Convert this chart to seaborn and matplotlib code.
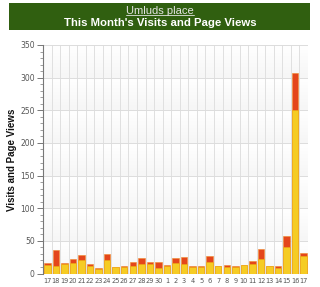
import numpy as np
import pandas as pd
import matplotlib
matplotlib.use("Agg")
import matplotlib.pyplot as plt
from matplotlib.lines import Line2D
from matplotlib.patches import Rectangle
from matplotlib.ticker import MultipleLocator, FixedLocator
import seaborn as sns

days = [17, 18, 19, 20, 21, 22, 23, 24, 25, 26, 27, 28, 29, 30,
        1, 2, 3, 4, 5, 6, 7, 8, 9, 10, 11, 12, 13, 14, 15, 16, 17]
visits = [13, 12, 14, 16, 21, 12, 7, 20, 10, 10, 12, 14, 14, 9,
          11, 16, 15, 10, 10, 18, 11, 10, 10, 13, 15, 22, 11, 9, 40, 250, 27]
pageviews = [16, 36, 16, 22, 29, 15, 9, 30, 10, 11, 18, 23, 17, 18,
             13, 23, 26, 12, 12, 27, 11, 13, 11, 13, 19, 38, 12, 12, 57, 307, 32]
site_name = "Umluds place"
chart_title = "This Month's Visits and Page Views"
y_label = "Visits and Page Views"

df = pd.DataFrame({"pos": np.arange(len(days)), "day": days,
                   "visits": visits, "pageviews": pageviews})

sns.set_style("white")
W, H = 320, 287
fig = plt.figure(figsize=(W / 100, H / 100), dpi=100)
fig.patch.set_facecolor("white")

# banner
fig.patches.append(Rectangle((9 / W, 1 - 30 / H), 301 / W, 27 / H,
                             transform=fig.transFigure, facecolor="#305f10",
                             edgecolor="none", zorder=0))
t1 = fig.text(0.5, 1 - 10.5 / H, site_name, ha="center", va="center",
              fontsize=8, color="#e4e4e4", family="Liberation Sans")
t2 = fig.text(0.5, 1 - 23 / H, chart_title, ha="center", va="center",
              fontsize=8.2, color="white", fontweight="bold", family="Liberation Sans")

ax = fig.add_axes([43 / W, 1 - 273.5 / H, 265 / W, (273.5 - 45) / H])
ax.set_facecolor("white")

# subtle gradient bands
ymax = 350
for lo in range(0, ymax, 50):
    grad = np.linspace(1, 0, 20).reshape(-1, 1)
    ax.imshow(grad, extent=(-0.5, len(days) - 0.5, lo, lo + 50), aspect="auto",
              cmap=matplotlib.colors.LinearSegmentedColormap.from_list(
                  "g", ["#ffffff", "#f6f6f6"]), vmin=0, vmax=1, zorder=0,
              origin="lower")

sns.barplot(data=df, x="pos", y="pageviews", ax=ax, color="#e4461b",
            saturation=1, width=0.76, edgecolor="#f08a2a", linewidth=0.4, zorder=3)
sns.barplot(data=df, x="pos", y="visits", ax=ax, color="#f5cc24",
            saturation=1, width=0.76, edgecolor="#eeaa10", linewidth=0.4, zorder=4)

ax.set_xlim(-0.5, len(days) - 0.5)
ax.set_ylim(0, ymax)
ax.yaxis.set_major_locator(MultipleLocator(50))
ax.yaxis.set_minor_locator(MultipleLocator(10))
ax.set_xticks(np.arange(len(days)))
ax.set_xticklabels([str(d) for d in days])
ax.xaxis.set_minor_locator(FixedLocator(np.arange(-0.5, len(days), 1.0)))
ax.grid(which="major", axis="y", color="#dcdcdc", linewidth=0.7, zorder=1)
ax.grid(which="minor", axis="x", color="#e0e0e0", linewidth=0.7, zorder=1)
ax.set_axisbelow(True)
for sp in ["top", "right", "bottom"]:
    ax.spines[sp].set_visible(False)
ax.spines["left"].set_color("#777777")
ax.spines["left"].set_linewidth(0.8)
ax.axhline(0, color="#bbbbbb", linewidth=0.8, zorder=2)

ax.tick_params(axis="y", which="major", length=4, width=0.7, color="#777777",
               labelsize=5.5, labelcolor="#555555", pad=2, left=True)
ax.tick_params(axis="y", which="minor", length=2, width=0.5, color="#777777", left=True)
ax.tick_params(axis="x", which="both", length=0, labelsize=4.8,
               labelcolor="#555555", pad=3)
for lab in ax.get_xticklabels() + ax.get_yticklabels():
    lab.set_family("Liberation Sans Narrow")

ax.set_xlabel("")
ax.set_ylabel("")
fig.text(12 / W, 1 - 160 / H, y_label, rotation=90, ha="center", va="center",
         fontsize=7, fontweight="bold", color="#111111", family="Liberation Sans")

# underline for site name
fig.canvas.draw()
bb = t1.get_window_extent().transformed(fig.transFigure.inverted())
fig.lines.append(Line2D([bb.x0, bb.x1], [bb.y0 + 0.2 / H, bb.y0 + 0.2 / H],
                        transform=fig.transFigure, color="#e4e4e4", linewidth=0.6))

fig.savefig("out.png", dpi=100)
